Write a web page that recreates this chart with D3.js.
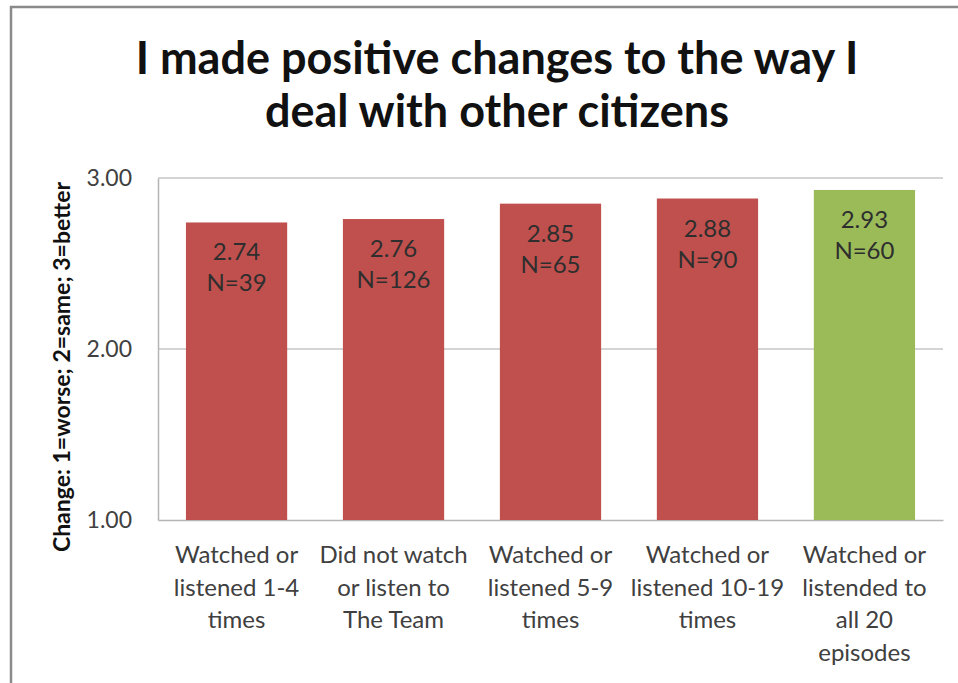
<!DOCTYPE html>
<html>
<head>
<meta charset="utf-8">
<script src="https://cdn.jsdelivr.net/npm/d3@7"></script>
<style>
  html, body { margin: 0; padding: 0; background: #fff; }
  svg { display: block; }
  text { font-family: Lato, "Open Sans", sans-serif; }
</style>
</head>
<body>
<svg id="chart" width="958" height="683"></svg>
<script>
// Chart data
const titleLines = ["I made positive changes to the way I", "deal with other citizens"];
const yAxisTitle = "Change: 1=worse; 2=same; 3=better";
const categories = [
  ["Watched or", "listened 1-4", "times"],
  ["Did not watch", "or listen to", "The Team"],
  ["Watched or", "listened 5-9", "times"],
  ["Watched or", "listened 10-19", "times"],
  ["Watched or", "listended to", "all 20", "episodes"]
];
const values = [2.74, 2.76, 2.85, 2.88, 2.93];
const counts = [39, 126, 65, 90, 60];
const barColors = ["#C0504D", "#C0504D", "#C0504D", "#C0504D", "#9BBB59"];
const yTicks = [1, 2, 3];

const svg = d3.select("#chart");

// Outer frame
svg.append("rect")
  .attr("x", 11).attr("y", 7)
  .attr("width", 960).attr("height", 700)
  .attr("fill", "none")
  .attr("stroke", "#8a8a8a")
  .attr("stroke-width", 2.5);

// Title
svg.append("text")
  .attr("text-anchor", "middle")
  .attr("font-weight", "bold").attr("font-size", 45).attr("fill", "#111")
  .selectAll("tspan").data(titleLines).join("tspan")
  .attr("x", 497)
  .attr("y", (d, i) => 74 + i * 53)
  .text(d => d);

// Plot area
const plot = { left: 158, right: 943, top: 178, bottom: 520 };

const x = d3.scaleBand()
  .domain(d3.range(values.length))
  .range([plot.left, plot.right])
  .paddingInner(0.355)
  .paddingOuter(0.178);

const y = d3.scaleLinear()
  .domain([1, 3])
  .range([plot.bottom, plot.top]);

// Gridlines
svg.append("g")
  .selectAll("line").data(yTicks.slice(1)).join("line")
  .attr("x1", plot.left).attr("x2", plot.right)
  .attr("y1", d => y(d)).attr("y2", d => y(d))
  .attr("stroke", "#c6c6c6").attr("stroke-width", 1.5);

// Y axis with tick labels
const yAxis = d3.axisLeft(y)
  .tickValues(yTicks)
  .tickFormat(d3.format(".2f"))
  .tickSize(0)
  .tickPadding(26);

const yg = svg.append("g")
  .attr("transform", `translate(${plot.left},0)`)
  .call(yAxis);
yg.select(".domain").attr("stroke", "#b5b5b5").attr("stroke-width", 1.5);
yg.selectAll("text")
  .attr("font-family", "Lato, sans-serif")
  .attr("font-size", 23)
  .attr("fill", "#404040");

// X axis baseline
const xg = svg.append("g")
  .attr("transform", `translate(0,${plot.bottom})`)
  .call(d3.axisBottom(x).tickSize(0).tickFormat(""));
xg.select(".domain").attr("stroke", "#b5b5b5").attr("stroke-width", 1.5);

// Bars
svg.append("g")
  .selectAll("rect").data(values).join("rect")
  .attr("x", (d, i) => x(i))
  .attr("y", d => y(d))
  .attr("width", x.bandwidth())
  .attr("height", d => y(1) - y(d))
  .attr("fill", (d, i) => barColors[i]);

// Value and sample-size labels inside the bars
const lbl = svg.append("g")
  .selectAll("text").data(values).join("text")
  .attr("text-anchor", "middle")
  .attr("font-size", 24)
  .attr("fill", "#2e2e2e");
lbl.append("tspan")
  .attr("x", (d, i) => x(i) + x.bandwidth() / 2)
  .attr("y", d => y(d) + 38)
  .text(d => d3.format(".2f")(d));
lbl.append("tspan")
  .attr("x", (d, i) => x(i) + x.bandwidth() / 2)
  .attr("y", (d, i) => y(d) + 69)
  .text((d, i) => "N=" + counts[i]);

// Category labels
svg.append("g")
  .selectAll("text").data(categories).join("text")
  .attr("text-anchor", "middle")
  .attr("font-size", 24)
  .attr("fill", "#404040")
  .each(function(lines, i) {
    d3.select(this).selectAll("tspan").data(lines).join("tspan")
      .attr("x", x(i) + x.bandwidth() / 2)
      .attr("y", (d, j) => 563 + j * 32.5)
      .text(d => d);
  });

// Y axis title
svg.append("text")
  .attr("transform", `translate(70,367) rotate(-90)`)
  .attr("text-anchor", "middle")
  .attr("font-weight", "bold")
  .attr("font-size", 23)
  .attr("fill", "#111")
  .text(yAxisTitle);
</script>
</body>
</html>
